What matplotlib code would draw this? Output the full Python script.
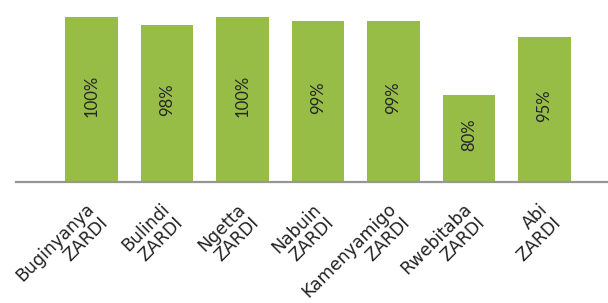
import matplotlib.pyplot as plt
from matplotlib.transforms import ScaledTranslation

sites = ['Buginyanya\nZARDI', 'Bulindi\nZARDI', 'Ngetta\nZARDI', 'Nabuin\nZARDI',
         'Kamenyamigo\nZARDI', 'Rwebitaba\nZARDI', 'Abi\nZARDI']
pct = [100, 98, 100, 99, 99, 80, 95]

plt.rcParams['font.family'] = ['Lato', 'DejaVu Sans']

fig = plt.figure(figsize=(6.08, 3.03), dpi=100)
ax = fig.add_axes([16 / 608, 121 / 303, 592 / 608, 165 / 303])

ymin = 57.7
x = list(range(len(pct)))
ax.bar(x, pct, width=0.70, color='#97BD46', zorder=2)

for i, v in zip(x, pct):
    ax.text(i, (v + ymin) / 2 + 1, f'{v}%', rotation=90, ha='center', va='center',
            fontsize=12, color='#262626')

ax.set_ylim(ymin, 100)
ax.set_xlim(-1.0, 6.84)
ax.set_yticks([])
ax.set_xticks(x)
ax.set_xticklabels(sites, rotation=45, ha='right', rotation_mode='anchor',
                   multialignment='right', fontsize=12.5, color='#222222',
                   family='DejaVu Sans', linespacing=1.05)
ax.tick_params(axis='x', length=0, pad=13)
# nudge the labels a little to the left
for lbl in ax.get_xticklabels():
    lbl.set_transform(lbl.get_transform() + ScaledTranslation(-6 / 100, 0, fig.dpi_scale_trans))

for s in ['top', 'right', 'left']:
    ax.spines[s].set_visible(False)
ax.spines['bottom'].set_color('#969696')
ax.spines['bottom'].set_linewidth(1.6)

fig.savefig('out.png', dpi=100)
